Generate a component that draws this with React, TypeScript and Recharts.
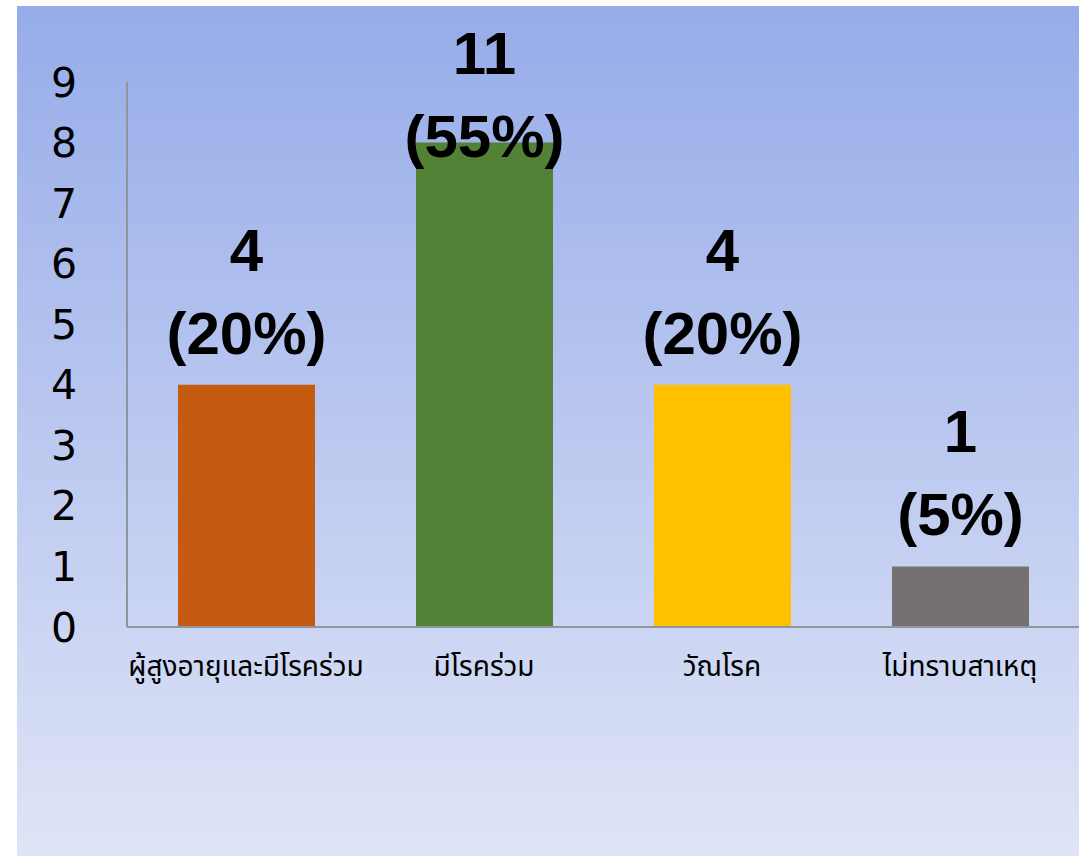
import React from "react";
import { BarChart, Bar, XAxis, YAxis, Cell, LabelList } from "recharts";

const categories = ["ผู้สูงอายุและมีโรคร่วม", "มีโรคร่วม", "วัณโรค", "ไม่ทราบสาเหตุ"];
const barHeights = [4, 8, 4, 1];
const counts = ["4", "11", "4", "1"];
const percents = ["(20%)", "(55%)", "(20%)", "(5%)"];
const yTicks = [0, 1, 2, 3, 4, 5, 6, 7, 8, 9];
const colors = ["#c55a11", "#538135", "#ffc000", "#767171"];

const data = categories.map((name, i) => ({
  name,
  value: barHeights[i],
  count: counts[i],
  pct: percents[i],
}));

const labelShift: Record<number, number> = { 1: 45 };

const renderLabel = (props: any) => {
  const { x, y, width, index } = props;
  const cx = Number(x) + Number(width) / 2;
  const top = Number(y) + (labelShift[index] || 0);
  const style = {
    fontFamily: "'Liberation Sans', Arial, sans-serif",
    fontWeight: 700,
    fontSize: 60,
    fill: "#000",
  } as const;
  return (
    <g>
      <text x={cx} y={top - 114} textAnchor="middle" style={style}>
        {counts[index]}
      </text>
      <text x={cx} y={top - 31} textAnchor="middle" style={style}>
        {percents[index]}
      </text>
    </g>
  );
};

export default function App() {
  return (
    <div style={{ position: "absolute", left: 0, top: 0, width: 1087, height: 856 }}>
      <div
        style={{
          position: "absolute",
          left: 17,
          top: 6,
          width: 1062,
          height: 850,
          background: "linear-gradient(to bottom, #96ace9 0%, #dfe4f6 100%)",
        }}
      />
      <div style={{ position: "absolute", left: 0, top: 0 }}>
        <BarChart
          width={1087}
          height={856}
          data={data}
          margin={{ top: 82, right: 8, left: 0, bottom: 199 }}
        >
          <XAxis
            dataKey="name"
            interval={0}
            height={30}
            axisLine={{ stroke: "#8f959e", strokeWidth: 2 }}
            tickLine={false}
            tickSize={0}
            tickMargin={29}
            tick={{
              fontSize: 28,
              fill: "#000",
              fontFamily: "'Noto Sans Thai', 'Noto Sans', sans-serif",
            }}
          />
          <YAxis
            width={127}
            domain={[0, 9]}
            ticks={yTicks}
            interval={0}
            axisLine={{ stroke: "#8f959e", strokeWidth: 2 }}
            tickLine={false}
            tickSize={0}
            tickMargin={50}
            tick={{
              fontSize: 41,
              fill: "#000",
              fontFamily: "'DejaVu Sans', sans-serif",
            }}
          />
          <Bar dataKey="value" barSize={137} isAnimationActive={false}>
            {data.map((d, i) => (
              <Cell key={d.name} fill={colors[i]} />
            ))}
            <LabelList dataKey="value" content={renderLabel} />
          </Bar>
        </BarChart>
      </div>
    </div>
  );
}
